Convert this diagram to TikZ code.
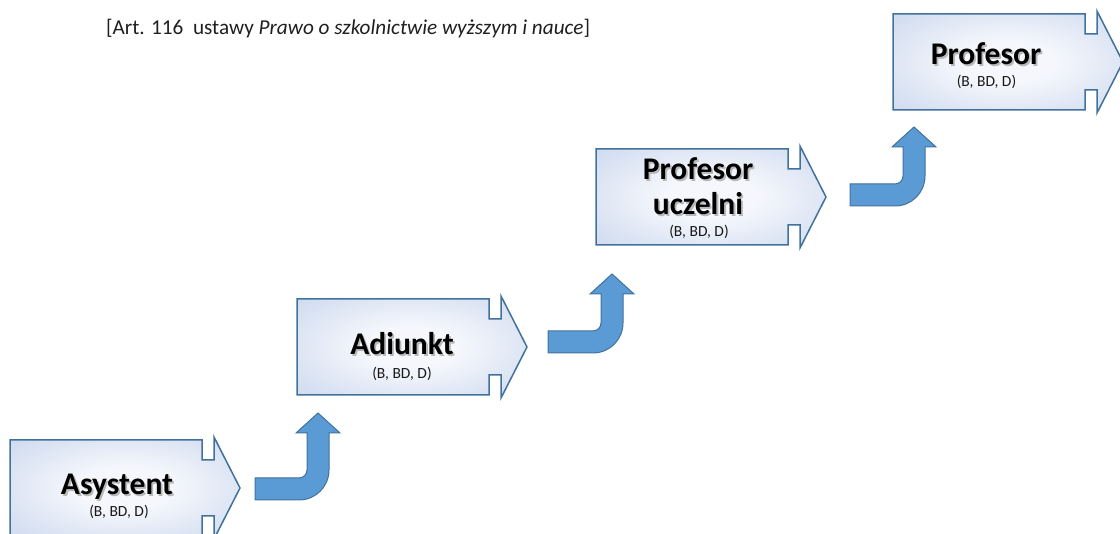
\documentclass[tikz,border=0pt]{standalone}
\usepackage{fontspec}
\setmainfont{Carlito}
\definecolor{boxin}{HTML}{F5F7FC}
\definecolor{boxout}{HTML}{C3D2EB}
\definecolor{boxline}{HTML}{41719C}
\definecolor{arrfill}{HTML}{5B9BD5}
\pgfdeclareradialshading{boxglow}{\pgfpoint{0bp}{0bp}}{color(0bp)=(boxin); color(10bp)=(boxin); color(42bp)=(boxout); color(75bp)=(boxout)}
\tikzset{
  boxshape/.style={draw=boxline, line width=1.5pt, shading=boxglow, line join=miter},
  bentfill/.style={draw=boxline, line width=1pt, fill=arrfill},
  bigtext/.style={font=\fontsize{31.5}{36}\selectfont\bfseries, anchor=base, inner sep=0pt},
  smalltext/.style={font=\fontsize{15.5}{18}\selectfont, inner sep=0pt, text=black!90},
  titletext/.style={font=\fontsize{21.2}{25}\selectfont, anchor=base west, inner sep=0pt, text=black!88},
  stepshape/.pic={
    \path[boxshape] (0,-48) -- (192,-48) -- (192,-28) -- (204,-28) -- (204,-51) -- (230,0)
      -- (204,51) -- (204,28) -- (192,28) -- (192,48) -- (0,48) -- cycle;
  }
}
\newcommand{\shadowtxt}[3]{%
  \node[bigtext, text=black!28] (#1s) at ([shift={(1.8,1.8)}]#2) {#3};
  \node[bigtext] (#1) at (#2) {#3};}
\newcommand{\bentarrow}[5]{% L B V H T
  \draw[bentfill] (#1,#2) -- ({#3+22-30},#2)
    .. controls ({#3+22-13.4},#2) and ({#3+22},{#2-13.4}) .. ({#3+22},{#2-30})
    -- ({#3+22},#4) -- ({#3+33},#4) -- ({#3+11},#5) -- ({#3-11},#4) -- (#3,#4)
    -- (#3,{#2-30})
    .. controls (#3,{#2-30+4.4}) and ({#3-3.6},{#2-22}) .. ({#3-8},{#2-22})
    -- (#1,{#2-22}) -- cycle;}
\begin{document}
\begin{tikzpicture}[x=1pt,y=-1pt]
\useasboundingbox (0,0) rectangle (1120,534);
% title
\node[titletext] (title) at (106,35) {[Art. 116\ \ ustawy \textit{Prawo o szkolnictwie wyższym i nauce}]};
% step shapes
\pic at (10,488) {stepshape};
\pic at (297,347) {stepshape};
\pic at (596,197) {stepshape};
\pic at (893,62) {stepshape};
% bent arrows
\bentarrow{255}{500}{307}{433}{413}
\bentarrow{548}{353}{601}{294}{274}
\bentarrow{850}{206}{903}{147}{127}
% labels
\shadowtxt{asy}{117,495}{Asystent}
\node[smalltext] (asysub) at (119,512) {(B, BD, D)};
\shadowtxt{adi}{402,355}{Adiunkt}
\node[smalltext] (adisub) at (402,374) {(B, BD, D)};
\shadowtxt{pu1}{698,180}{Profesor}
\shadowtxt{pu2}{698,215}{uczelni}
\node[smalltext] (pusub) at (699,232) {(B, BD, D)};
\shadowtxt{prof}{986,65}{Profesor}
\node[smalltext] (profsub) at (986.5,82) {(B, BD, D)};
\end{tikzpicture}
\end{document}
